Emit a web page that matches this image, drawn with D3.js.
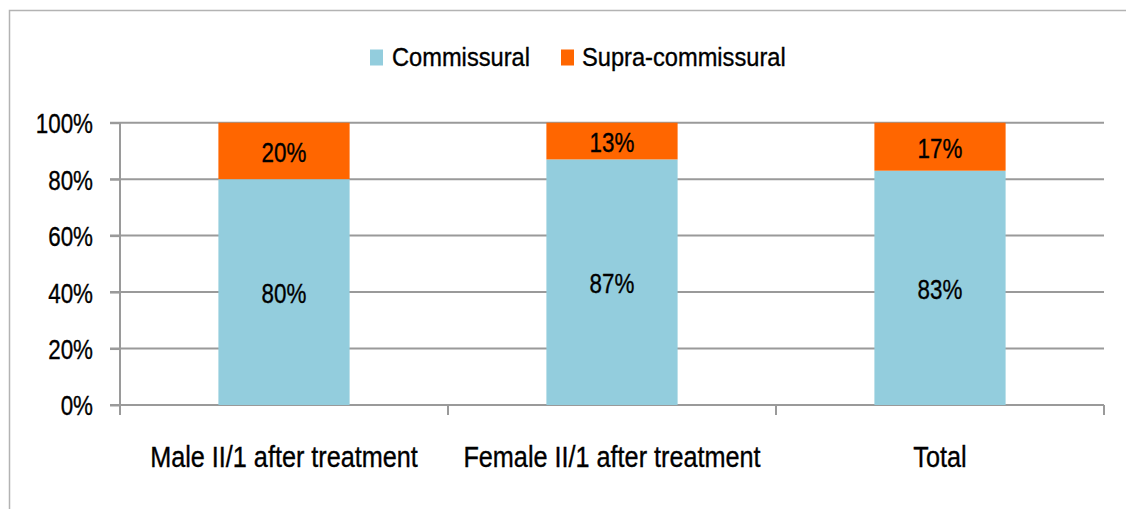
<!DOCTYPE html>
<html>
<head>
<meta charset="utf-8">
<script src="https://cdn.jsdelivr.net/npm/d3@7"></script>
<style>
  html, body { margin: 0; padding: 0; background: #fff; }
  svg { display: block; }
  text { font-family: "Liberation Sans", Arial, sans-serif; fill: #000; stroke: #000; stroke-width: 0.35px; }
</style>
</head>
<body>
<svg id="chart" width="1126" height="509"></svg>
<script>
// ---- data ----
const categories = ["Male II/1 after treatment", "Female II/1 after treatment", "Total"];
const seriesNames = ["Commissural", "Supra-commissural"];
const commissural = [0.80, 0.87, 0.83];
const supraCommissural = [0.20, 0.13, 0.17];
const yTicks = [0, 0.2, 0.4, 0.6, 0.8, 1.0];
const colors = ["#93CDDD", "#FF6600"];

// ---- layout ----
const W = 1126, H = 509;
const plot = { left: 120, right: 1104, top: 122.7, bottom: 405 };
const gridColor = "#9a9a9a";

const svg = d3.select("#chart");

// chart border (top + left visible)
svg.append("rect")
  .attr("x", 9.5).attr("y", 10.5)
  .attr("width", W + 50).attr("height", H + 50)
  .attr("fill", "none").attr("stroke", "#b3b3b3").attr("stroke-width", 1.5);

const x = d3.scaleBand().domain(categories).range([plot.left, plot.right]).padding(0);
const y = d3.scaleLinear().domain([0, 1]).range([plot.bottom, plot.top]);
const barW = x.bandwidth() * 0.40;

// helper for horizontally condensed text
function ctext(g, str, px, py, size, sx, anchor) {
  return g.append("text")
    .attr("transform", `translate(${px},${py}) scale(${sx},1)`)
    .attr("text-anchor", anchor)
    .attr("dominant-baseline", "central")
    .style("font-size", size + "px")
    .text(str);
}

// gridlines
svg.append("g").selectAll("line").data(yTicks).join("line")
  .attr("x1", plot.left - 10).attr("x2", plot.right)
  .attr("y1", d => y(d)).attr("y2", d => y(d))
  .attr("stroke", gridColor).attr("stroke-width", 2);

// y axis via d3
const yAxisG = svg.append("g").attr("transform", `translate(${plot.left},0)`)
  .call(d3.axisLeft(y).tickValues(yTicks).tickFormat(d3.format(".0%")).tickSize(10).tickPadding(17));
yAxisG.select(".domain").remove();
yAxisG.selectAll(".tick line").attr("stroke", gridColor).attr("stroke-width", 2);
yAxisG.selectAll(".tick text").each(function() {
  const t = d3.select(this);
  t.attr("x", null).attr("dy", null)
   .attr("transform", `translate(-27,0) scale(0.8,1)`)
   .attr("dominant-baseline", "central")
   .style("font-size", "28px").attr("fill", "#000");
});
yAxisG.attr("font-family", null).attr("font-size", null);

// vertical axis line (extends to first category tick)
svg.append("line")
  .attr("x1", plot.left).attr("x2", plot.left)
  .attr("y1", y(1)).attr("y2", plot.bottom + 10)
  .attr("stroke", gridColor).attr("stroke-width", 2);

// x axis line + boundary ticks
const bounds = categories.map(c => x(c)).concat([x(categories[categories.length - 1]) + x.bandwidth()]);
svg.append("line")
  .attr("x1", plot.left - 10).attr("x2", plot.right)
  .attr("y1", plot.bottom).attr("y2", plot.bottom)
  .attr("stroke", gridColor).attr("stroke-width", 2);
svg.append("g").selectAll("line").data(bounds.slice(1)).join("line")
  .attr("x1", d => d).attr("x2", d => d)
  .attr("y1", plot.bottom).attr("y2", plot.bottom + 10)
  .attr("stroke", gridColor).attr("stroke-width", 2);

// category labels
const xAxisG = svg.append("g");
categories.forEach(c => ctext(xAxisG, c, x(c) + x.bandwidth() / 2, 457, 29, 0.87, "middle"));

// stacked data
const rows = categories.map((c, i) => ({ cat: c, Commissural: commissural[i], "Supra-commissural": supraCommissural[i] }));
const stack = d3.stack().keys(seriesNames)(rows);

const barsG = svg.append("g");
stack.forEach((layer, li) => {
  barsG.append("g").selectAll("rect").data(layer).join("rect")
    .attr("x", d => x(d.data.cat) + (x.bandwidth() - barW) / 2)
    .attr("width", barW)
    .attr("y", d => y(d[1]))
    .attr("height", d => y(d[0]) - y(d[1]))
    .attr("fill", colors[li]);
});

// data labels
const lblG = svg.append("g");
stack.forEach(layer => {
  layer.forEach(d => {
    ctext(lblG, d3.format(".0%")(d[1] - d[0]),
      x(d.data.cat) + x.bandwidth() / 2, (y(d[0]) + y(d[1])) / 2 + 1, 28, 0.8, "middle");
  });
});

// legend
const legendG = svg.append("g");
const legendItems = [
  { name: seriesNames[0], color: colors[0], sx: 370, tx: 392 },
  { name: seriesNames[1], color: colors[1], sx: 561, tx: 582 }
];
legendItems.forEach(it => {
  legendG.append("rect").attr("x", it.sx).attr("y", 49.5).attr("width", 13).attr("height", 16).attr("fill", it.color);
  ctext(legendG, it.name, it.tx, 57.5, 26, 0.91, "start");
});
</script>
</body>
</html>
